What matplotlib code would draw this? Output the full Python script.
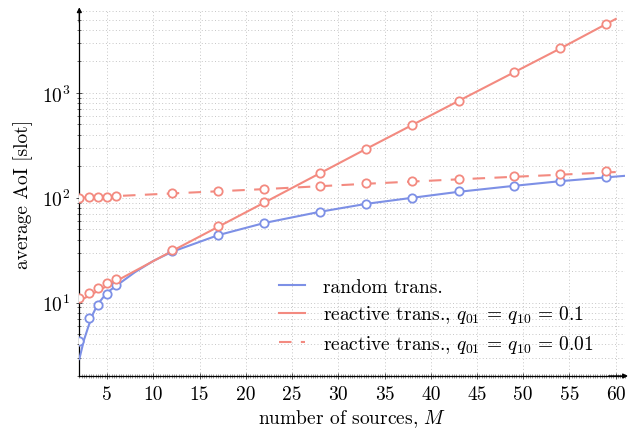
import matplotlib
matplotlib.use("Agg")
import matplotlib.pyplot as plt
from matplotlib.ticker import FixedLocator, NullFormatter, LogLocator
import numpy as np

plt.rcParams["font.family"] = ["cmr10", "DejaVu Serif"]
plt.rcParams["mathtext.fontset"] = "cm"
plt.rcParams["axes.formatter.use_mathtext"] = True

# simulated points (number of sources M)
m_sim = [2, 3, 4, 5, 6, 12, 17, 22, 28, 33, 38, 43, 49, 54, 59]
random_sim = [4.3, 7.1, 9.6, 12.2, 14.7, 31.0, 44.1, 57.7, 73.8, 87.7, 100, 115, 130, 144, 158]
reactive01_sim = [11.2, 12.4, 13.7, 15.3, 17.0, 31.7, 53.3, 90.7, 172, 292, 494, 838, 1574, 2667, 4540]
reactive001_sim = [100, 101.5, 101.5, 102, 104, 111, 116, 122, 129, 137, 144, 151, 162, 168, 180]

# analytical curves
m_random = [2, 2.5, 3, 3.5, 4, 5, 6, 8, 10, 12, 17, 22, 28, 33, 38, 43, 49, 54, 61]
random_ana = [2.9, 4.4, 6.0, 7.9, 9.7, 12.5, 14.5, 19.5, 25.0, 30.5, 44, 57.5, 73.5, 87.5, 100, 114, 130, 144, 162]
m_react = [2, 12, 22, 33, 43, 54, 60]
reactive01_ana = [10.4, 31, 90, 292, 838, 2650, 5070]
m_react2 = [2, 12, 22, 33, 43, 54, 60]
reactive001_ana = [100, 110, 121, 136, 150, 166, 176]

x_ticks = [5, 10, 15, 20, 25, 30, 35, 40, 45, 50, 55, 60]
y_ticks = [10, 100, 1000]
y_tick_labels = [r"$10^{1}$", r"$10^{2}$", r"$10^{3}$"]

blue = "#7d90e6"
red = "#f38a80"
fs = 14

fig = plt.figure(figsize=(6.29, 4.31), dpi=100)
ax = fig.add_axes([0.1261, 0.1253, 0.8675, 0.8462])

ax.set_yscale("log")
ax.set_xlim(2, 61)
ax.set_ylim(2, 6000)

lw = 1.5
ms = 6.0
mew = 1.3

ax.plot(m_random, random_ana, color=blue, lw=lw, label="random trans.", zorder=3)
ax.plot(m_react, reactive01_ana, color=red, lw=lw,
        label=r"reactive trans., $q_{01}\, =\, q_{10}\, =\, 0.1$", zorder=3)
ax.plot(m_react2, reactive001_ana, color=red, lw=lw, dashes=(6, 4.5),
        label=r"reactive trans., $q_{01}\, =\, q_{10}\, =\, 0.01$", zorder=3)

for vals, col in [(random_sim, blue), (reactive01_sim, red), (reactive001_sim, red)]:
    ax.plot(m_sim, vals, linestyle="none", marker="o", ms=ms, mfc="white",
            mec=col, mew=mew, zorder=4)

# ticks and grid
ax.xaxis.set_major_locator(FixedLocator(x_ticks))
ax.set_xticklabels([str(t) for t in x_ticks])
ax.xaxis.set_minor_locator(FixedLocator(np.arange(2, 61.01, 0.25)))
ax.yaxis.set_major_locator(FixedLocator(y_ticks))
ax.set_yticklabels(y_tick_labels)
ax.yaxis.set_minor_locator(LogLocator(base=10, subs=np.arange(2, 10), numticks=20))
ax.yaxis.set_minor_formatter(NullFormatter())

ax.tick_params(axis="both", which="major", direction="inout", length=5, width=0.6,
               labelsize=fs, pad=4, color="#333333")
ax.tick_params(axis="y", which="minor", direction="inout", length=3, width=0.5, color="#333333")
ax.tick_params(axis="x", which="minor", direction="inout", length=3.5, width=0.6, color="#888888")

grid_kw = dict(color="#c6c6c6", linestyle=(0, (1, 2.4)), linewidth=0.7)
ax.grid(True, which="major", axis="both", **grid_kw)
ax.grid(True, which="minor", axis="y", **grid_kw)
ax.set_axisbelow(True)

for s in ("top", "right"):
    ax.spines[s].set_visible(False)
ax.spines["left"].set_linewidth(0.9)
ax.spines["bottom"].set_linewidth(0.9)

# axis arrows
ax.annotate("", xy=(0, 1.0 + 4 / 364.7), xytext=(0, 0.97), xycoords="axes fraction",
            arrowprops=dict(arrowstyle="-|>", lw=0.9, color="black", mutation_scale=7,
                            shrinkA=0, shrinkB=0))
ax.annotate("", xy=(1.0 + 3 / 545.6, 0), xytext=(0.97, 0), xycoords="axes fraction",
            arrowprops=dict(arrowstyle="-|>", lw=0.9, color="black", mutation_scale=7,
                            shrinkA=0, shrinkB=0))

ax.set_xlabel(r"number of sources, $M$", fontsize=fs, labelpad=3)
ax.set_ylabel("average AoI [slot]", fontsize=fs, labelpad=6)

leg = ax.legend(loc="lower left", bbox_to_anchor=(0.345, 0.025), frameon=False,
                fontsize=fs, handlelength=1.35, handletextpad=0.9, labelspacing=0.4,
                borderaxespad=0.2)

fig.savefig("out.png", dpi=100)
